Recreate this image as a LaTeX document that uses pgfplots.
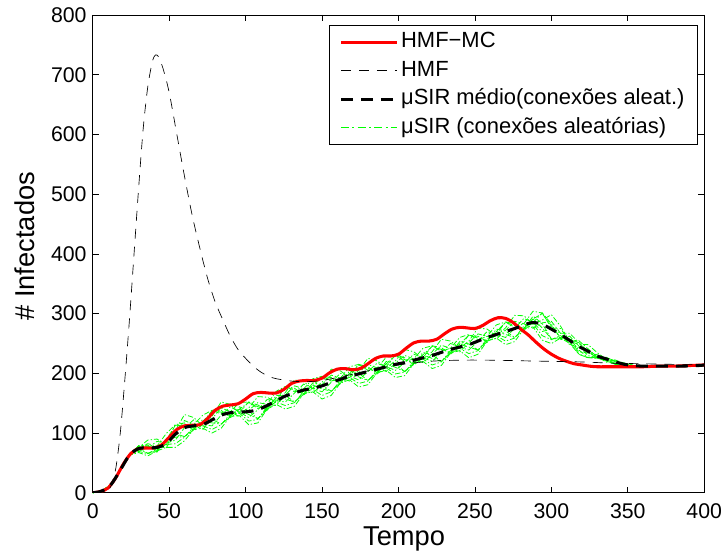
\documentclass[border=0pt]{standalone}
\usepackage{pgfplots}
\pgfplotsset{compat=1.18}
\usepackage{fontspec}
\setmainfont{Liberation Sans}
\definecolor{mgreen}{RGB}{0,255,0}
\pgfplotsset{greenr/.style={color=mgreen, line width=0.6pt, dash pattern=on 4pt off 1.5pt on 1pt off 1.5pt}}
\begin{document}
\begin{tikzpicture}
\begin{axis}[
 set layers,
 scale only axis, width=459.75pt, height=359.25pt,
 xmin=0, xmax=400, ymin=0, ymax=800,
 xtick={0,50,...,400}, ytick={0,100,...,800},
 tick align=inside, major tick length=4.5pt,
 every tick/.style={black, line width=0.5pt},
 axis line style={black, line width=0.6pt},
 /pgf/number format/assume math mode=true,
 ticklabel style={font=\fontsize{16}{16}\selectfont},
 xticklabel style={anchor=north, inner sep=0pt, yshift=-8.25pt},
 yticklabel style={anchor=east, inner sep=0pt, xshift=-4.5pt},
 xlabel={Tempo}, ylabel={\# Infectados},
 xlabel style={font=\fontsize{20.5}{20.5}\selectfont, at={(axis description cs:0.509,0)}, anchor=north, inner sep=0pt, yshift=-25pt},
 ylabel style={font=\fontsize{20.5}{20.5}\selectfont, at={(axis description cs:-0.0946,0.516)}, anchor=south, inner sep=0pt},
 legend style={at={(rel axis cs:1,1)}, anchor=north east, xshift=-4.5pt, yshift=-7.5pt, line width=0.6pt, fill=white, font=\fontsize{16.5}{16.5}\selectfont, inner xsep=8pt, inner ysep=4.5pt, row sep=4.9pt, nodes={inner ysep=0pt, text height=12.5pt, text depth=4pt}},
 legend cell align=left,
 legend image code/.code={\draw[#1] (0pt,0pt) -- (42pt,0pt);},
]
% stochastic realizations (green, dash-dot), drawn on the background layer
\addplot[greenr, forget plot, on layer=axis background] coordinates {
(0,0)(6,3)(12,14)(18,38)(24,63)(30,78.5)(36,78)(42,71)(48,88)(54,113)(60,114)(66,107)(72,119)(78,137)(84,135)(90,129)(96,140)(102,151)(108,144)(114,141)(120,159)(126,177)(132,172)(138,167)(144,180)(150,194)(156,190)(162,185)(168,200)(174,214)(180,208)(186,202)(192,216)(198,230)(204,223)(210,217)(216,231)(222,245)(228,240)(234,235)(240,249)(246,264)(252,259)(258,255)(264,270)(270,285)(276,280)(282,275.5)(288,291)(294,300)(300,279.5)(306,260)(312,258)(318,251)(324,236.5)(330,225)(336,222.5)(342,221)(348,215.5)(354,213)(360,212)(372,212)(384,213)(396,214)(400,214)};
\addplot[greenr, forget plot, on layer=axis background] coordinates {
(0,0)(6,3)(12,14)(18,38)(24,63)(30,72.5)(36,66)(42,71)(48,88)(54,93)(60,94)(66,107)(72,119)(78,117)(84,115)(90,129)(96,140)(102,131)(108,124)(114,141)(120,159)(126,157)(132,152)(138,167)(144,180)(150,174)(156,170)(162,185)(168,200)(174,194)(180,188)(186,202)(192,216)(198,210)(204,203)(210,217)(216,231)(222,225)(228,220)(234,235)(240,249)(246,244)(252,239)(258,255)(264,270)(270,265)(276,260)(282,275.5)(288,291)(294,276)(300,257.5)(306,260)(312,258)(318,239)(324,226.5)(330,225)(336,222.5)(342,217)(348,213.5)(354,213)(360,212)(372,212)(384,213)(396,214)(400,214)};
\addplot[greenr, forget plot, on layer=axis background] coordinates {
(0,0)(6,3)(12,14)(18,38)(24,63)(30,78.8)(36,76.2)(42,78)(48,99)(54,114)(60,111)(66,114)(72,130)(78,138)(84,132)(90,136)(96,151)(102,152)(108,141)(114,148)(120,170)(126,178)(132,169)(138,174)(144,191)(150,195)(156,187)(162,192)(168,211)(174,215)(180,205)(186,209)(192,227)(198,231)(204,220)(210,224)(216,242)(222,246)(228,237)(234,242)(240,260)(246,265)(252,256)(258,262)(264,281)(270,286)(276,277)(282,283)(288,304)(294,301)(300,276)(306,267)(312,267)(318,251.6)(324,235)(330,228)(336,226)(342,221)(348,215.2)(354,213)(360,212)(372,212)(384,213)(396,214)(400,214)};
\addplot[greenr, forget plot, on layer=axis background] coordinates {
(0,0)(6,3)(12,14)(18,38)(24,63)(30,69.2)(36,65.4)(42,74)(48,81)(54,82)(60,93)(66,110)(72,112)(78,106)(84,114)(90,132)(96,133)(102,120)(108,123)(114,144)(120,152)(126,146)(132,151)(138,170)(144,173)(150,163)(156,169)(162,188)(168,193)(174,183)(180,187)(186,205)(192,209)(198,199)(204,202)(210,220)(216,224)(222,214)(228,219)(234,238)(240,242)(246,233)(252,238)(258,258)(264,263)(270,254)(276,259)(282,279)(288,282.6)(294,263)(300,256.4)(306,263)(312,252.4)(318,232.4)(324,226)(330,226.2)(336,220.4)(342,214.8)(348,213.4)(354,213)(360,212)(372,212)(384,213)(396,214)(400,214)};
\addplot[greenr, forget plot, on layer=axis background] coordinates {
(0,0)(6,3)(12,14)(18,38)(24,63)(30,71)(36,75)(42,86)(48,83)(54,88)(60,109)(66,122)(72,114)(78,112)(84,130)(90,144)(96,135)(102,126)(108,139)(114,156)(120,154)(126,152)(132,167)(138,182)(144,175)(150,169)(156,185)(162,200)(168,195)(174,189)(180,203)(186,217)(192,211)(198,205)(204,218)(210,232)(216,226)(222,220)(228,235)(234,250)(240,244)(246,239)(252,254)(258,270)(264,265)(270,260)(276,275)(282,292)(288,285)(294,270)(300,274)(306,275)(312,254)(318,236)(324,234)(330,231)(336,221)(342,216)(348,215)(354,213)(360,212)(372,212)(384,213)(396,214)(400,214)};
\addplot[greenr, forget plot, on layer=axis background] coordinates {
(0,0)(6,3)(12,14)(18,38)(24,63)(30,74.6)(36,82.2)(42,78)(48,75)(54,100)(60,121)(66,114)(72,106)(78,124)(84,142)(90,136)(96,127)(102,138)(108,151)(114,148)(120,146)(126,164)(132,179)(138,174)(144,167)(150,181)(156,197)(162,192)(168,187)(174,201)(180,215)(186,209)(192,203)(198,217)(204,230)(210,224)(216,218)(222,232)(228,247)(234,242)(240,236)(246,251)(252,266)(258,262)(264,257)(270,272)(276,287)(282,283)(288,275.4)(294,284.4)(300,287)(306,267)(312,247.6)(318,243.2)(324,240)(330,227.8)(336,218.6)(342,218.4)(348,216.2)(354,213)(360,212)(372,212)(384,213)(396,214)(400,214)};
\addplot[greenr, forget plot, on layer=axis background] coordinates {
(0,0)(6,3)(12,14)(18,38)(24,63)(30,74.3)(36,66)(42,69)(48,91)(54,99)(60,94)(66,105)(72,123)(78,123)(84,115)(90,127)(96,144)(102,137)(108,124)(114,139)(120,163)(126,163)(132,152)(138,165)(144,184)(150,180)(156,170)(162,183)(168,204)(174,200)(180,188)(186,200)(192,220)(198,216)(204,203)(210,215)(216,235)(222,231)(228,220)(234,233)(240,253)(246,249)(252,239)(258,253)(264,274)(270,271)(276,260)(282,273.3)(288,295.8)(294,283.2)(300,257.5)(306,258)(312,262.2)(318,245.6)(324,229.5)(330,226.2)(336,226.7)(342,219.2)(348,213.5)(354,213)(360,212)(372,212)(384,213)(396,214)(400,214)};
\addplot[greenr, forget plot, on layer=axis background] coordinates {
(0,0)(6,3)(12,14)(18,38)(24,63)(30,78.8)(36,79.8)(42,68)(48,82)(54,114)(60,117)(66,104)(72,114)(78,138)(84,138)(90,126)(96,135)(102,152)(108,147)(114,138)(120,154)(126,178)(132,175)(138,164)(144,175)(150,195)(156,193)(162,182)(168,195)(174,215)(180,211)(186,199)(192,211)(198,231)(204,226)(210,214)(216,226)(222,246)(228,243)(234,232)(240,244)(246,264)(252,262)(258,252)(264,265)(270,286)(276,283)(282,272.2)(288,285)(294,301.2)(300,282.8)(306,257)(312,255)(318,254.6)(324,241)(330,225.8)(336,224)(342,222.2)(348,215.8)(354,213)(360,212)(372,212)(384,213)(396,214)(400,214)};
\addplot[greenr, forget plot, on layer=axis background] coordinates {
(0,0)(6,3)(12,14)(18,38)(24,63)(30,67.4)(36,61.8)(42,70)(48,76)(54,76)(60,87)(66,106)(72,108)(78,100)(84,108)(90,128)(96,129)(102,114)(108,117)(114,140)(120,148)(126,140)(132,145)(138,166)(144,169)(150,157)(156,163)(162,184)(168,189)(174,177)(180,181)(186,201)(192,205)(198,193)(204,196)(210,216)(216,220)(222,208)(228,213)(234,234)(240,238)(246,226)(252,232)(258,254)(264,259)(270,248)(276,253)(282,274.4)(288,277.8)(294,255.6)(300,249.8)(306,259)(312,250.2)(318,231.8)(324,226)(330,226.6)(336,222.2)(342,214.6)(348,212.8)(354,213)(360,212)(372,212)(384,213)(396,214)(400,214)};
% HMF-MC
\addplot[red, line width=2.3pt, smooth] coordinates {
(0,0)(5,2)(10,8)(15,25)(20,48)(25,66)(30,74)(35,75)(40,75)(45,80)(50,93)(55,106)(60,112)(65,113)(70,114)(75,124)(80,138)(85,145)(90,147)(95,149)(100,157)(105,166)(110,168)(115,167)(120,167)(125,173)(130,183)(135,187)(140,188)(145,188)(150,192)(155,201)(160,207)(165,208)(170,206)(175,208)(180,216)(185,225)(190,229)(195,229)(200,232)(205,242)(210,251)(215,254)(220,254)(225,257)(230,266)(235,274)(240,277)(245,276)(250,275)(255,280)(260,288)(265,293)(270,292)(275,285)(280,274)(285,264)(290,252)(295,241)(300,232)(305,225)(310,220)(315,216)(320,214)(325,212)(330,211)(340,211)(350,211)(360,211)(370,212)(380,212)(390,213)(400,214)};
\addlegendentry{HMF−MC}
% HMF
\addplot[black, line width=0.5pt, dash pattern=on 7.5pt off 6pt, smooth] coordinates {
(0,0)(5,1)(10,5)(12,12)(15,40)(18,100)(21,190)(24,290)(27,400)(30,510)(33,610)(36,680)(39,722)(41,733)(43,730)(46,710)(50,670)(55,600)(60,530)(65,465)(70,410)(75,360)(80,320)(85,290)(90,262)(95,240)(100,225)(105,212)(110,202)(115,195)(120,191)(130,187)(140,186)(150,188)(160,193)(180,204)(200,214)(220,220)(240,222)(260,222)(280,221)(300,220)(320,219)(340,217)(360,216)(380,215)(400,215)};
\addlegendentry{HMF}
% muSIR mean
\addplot[black, line width=2.3pt, dash pattern=on 9pt off 6pt, smooth] coordinates {
(0,0)(6,3)(12,14)(18,38)(24,63)(30,74)(36,75)(42,76)(48,82)(54,98)(60,109)(66,112)(72,114)(78,122)(84,130)(90,134)(96,135)(102,136)(108,139)(114,146)(120,154)(126,162)(132,167)(138,172)(144,175)(150,179)(156,185)(162,190)(168,195)(174,199)(180,203)(186,207)(192,211)(198,215)(204,218)(210,222)(216,226)(222,230)(228,235)(234,240)(240,244)(246,248)(252,254)(258,260)(264,265)(270,270)(276,275)(282,281)(288,285)(294,282)(300,274)(306,265)(312,255)(318,245)(324,237)(330,229)(336,224)(342,219)(348,215)(354,213)(360,212)(372,212)(384,212)(396,213)(400,214)};
\addlegendentry{μSIR médio(conexões aleat.)}
% last realization, carrying the legend entry
\addplot[greenr, on layer=axis background, legend image code/.code={\draw[draw=mgreen, line width=1pt, dash pattern=on 6pt off 2.5pt on 1.5pt off 2.5pt] (0pt,0pt) -- (42pt,0pt);}] coordinates {
(0,0)(6,3)(12,14)(18,38)(24,63)(30,75.8)(36,88.2)(42,90)(48,80)(54,104)(60,131)(66,126)(72,112)(78,128)(84,152)(90,148)(96,133)(102,142)(108,161)(114,160)(120,152)(126,168)(132,189)(138,186)(144,173)(150,185)(156,207)(162,204)(168,193)(174,205)(180,225)(186,221)(192,209)(198,221)(204,240)(210,236)(216,224)(222,236)(228,257)(234,254)(240,242)(246,254)(252,276)(258,274)(264,263)(270,276)(276,297)(282,296.4)(288,282.6)(294,289.2)(300,298.2)(306,279)(312,253.4)(318,248.6)(324,248)(330,234.6)(336,223.4)(342,220.2)(348,217.2)(354,213)(360,212)(372,212)(384,213)(396,214)(400,214)};
\addlegendentry{μSIR (conexões aleatórias)}
\end{axis}
\path ([shift={(-69.75pt,-45.75pt)}]current axis.south west) rectangle ([shift={(12pt,11.25pt)}]current axis.north east);
\end{tikzpicture}
\end{document}
